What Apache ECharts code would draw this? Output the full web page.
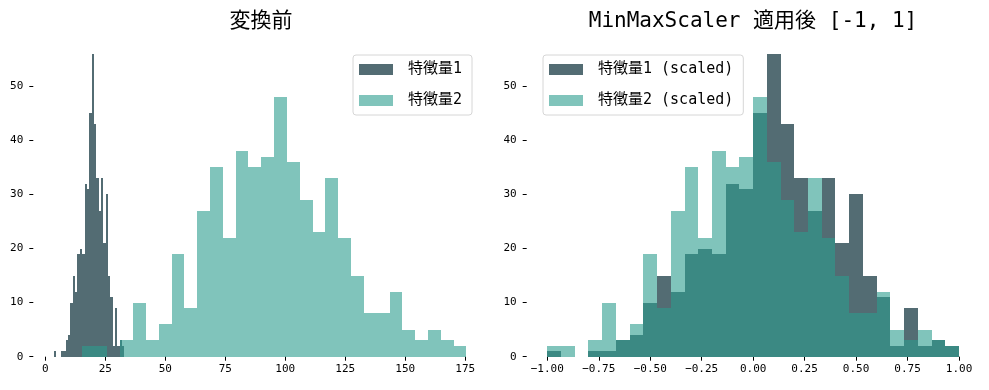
<!DOCTYPE html>
<html>
<head>
<meta charset="utf-8">
<script src="https://cdn.jsdelivr.net/npm/echarts@6/dist/echarts.min.js"></script>
<style>
  html, body { margin: 0; padding: 0; background: #fff; }
  #chart { width: 989px; height: 390px; }
</style>
</head>
<body>
<div id="chart"></div>
<script>
// ---- Data ----
const titles = ['変換前', 'MinMaxScaler 適用後 [-1, 1]'];
const seriesNamesRaw = ['特徴量1', '特徴量2'];
const seriesNamesScaled = ['特徴量1 (scaled)', '特徴量2 (scaled)'];

// histogram counts, 30 bins each
const feature1Counts = [1,0,0,1,1,3,4,10,15,12,19,20,19,32,31,45,56,43,33,27,33,21,30,15,11,2,9,2,3,2];
const feature2Counts = [2,2,0,3,10,3,6,19,9,27,35,22,38,35,37,48,36,29,23,33,22,15,8,8,12,5,3,5,3,2];

// data range of each feature (bin edges span min..max)
const feature1Range = [3.6, 33.0];
const feature2Range = [15.2, 175.5];
const scaledRange = [-1, 1];

// tick labels
const leftXTicks = [0, 25, 50, 75, 100, 125, 150, 175];
const rightXTicks = [-1, -0.75, -0.5, -0.25, 0, 0.25, 0.5, 0.75, 1];
const yTicks = [0, 10, 20, 30, 40, 50];

// ---- Build ----
const FONT = "'DejaVu Sans Mono', 'Noto Sans CJK JP', monospace";
const C1 = '#536c73';
const C2 = '#2b9d8e';
const C2_OP = 0.6;
const C2_LEGEND = '#80c4bb';

function histData(counts, range) {
  const n = counts.length;
  const w = (range[1] - range[0]) / n;
  return counts.map((c, i) => [range[0] + i * w, range[0] + (i + 1) * w, c]);
}

function makeRender(fill, opacity) {
  return function (params, api) {
    const x0 = api.value(0), x1 = api.value(1), c = api.value(2);
    if (!c) return null;
    const p0 = api.coord([x0, c]);
    const p1 = api.coord([x1, 0]);
    const xa = Math.round(p0[0]), xb = Math.round(p1[0]);
    const ya = Math.round(p0[1]), yb = Math.round(p1[1]);
    return {
      type: 'rect',
      shape: { x: xa, y: ya, width: Math.max(1, xb - xa), height: yb - ya },
      style: { fill: fill, opacity: opacity }
    };
  };
}

function fmtMinus(v, digits) {
  const s = Math.abs(v).toFixed(digits);
  return (v < 0 ? '\u2212' : '') + s;
}

const axisCommon = {
  axisLine: { show: false, onZero: false },
  splitLine: { show: false },
  axisTick: { show: true, length: 4, lineStyle: { color: '#000', width: 1 } },
};

const labelStyle = { fontSize: 11, fontFamily: FONT, color: '#000' };

const legendCommon = {
  orient: 'vertical',
  top: 55,
  icon: 'rect',
  itemWidth: 34,
  itemHeight: 11,
  itemGap: 16,
  padding: [7, 10, 7, 6],
  borderColor: '#d6d6d6',
  borderWidth: 1,
  borderRadius: 3,
  backgroundColor: '#fff',
  selectedMode: false,
  textStyle: { fontSize: 15, fontFamily: FONT, color: '#000', padding: [0, 0, 0, 10] }
};

const option = {
  backgroundColor: '#fff',
  animation: false,
  title: [
    { text: titles[0], left: 256, top: 6, textAlign: 'center',
      textStyle: { fontSize: 21, fontWeight: 'normal', fontFamily: FONT, color: '#000' } },
    { text: titles[1], left: 748, top: 6, textAlign: 'center',
      textStyle: { fontSize: 21, fontWeight: 'normal', fontFamily: FONT, color: '#000' } }
  ],
  legend: [
    Object.assign({}, legendCommon, {
      left: 353,
      data: [
        { name: seriesNamesRaw[0], itemStyle: { color: C1, opacity: 1 } },
        { name: seriesNamesRaw[1], itemStyle: { color: C2_LEGEND, opacity: 1 } }
      ]
    }),
    Object.assign({}, legendCommon, {
      left: 543,
      data: [
        { name: seriesNamesScaled[0], itemStyle: { color: C1, opacity: 1 } },
        { name: seriesNamesScaled[1], itemStyle: { color: C2_LEGEND, opacity: 1 } }
      ]
    })
  ],
  grid: [
    { left: 33.3, top: 38.6, width: 453.8, height: 318.1, containLabel: false, outerBoundsMode: 'none' },
    { left: 526.7, top: 38.6, width: 452.9, height: 318.1, containLabel: false, outerBoundsMode: 'none' }
  ],
  xAxis: [
    Object.assign({}, axisCommon, {
      type: 'value', gridIndex: 0, min: -5.0, max: 184.1,
      axisTick: Object.assign({}, axisCommon.axisTick, { customValues: leftXTicks }),
      axisLabel: Object.assign({}, labelStyle, { margin: 7, customValues: leftXTicks,
        formatter: v => fmtMinus(v, 0) })
    }),
    Object.assign({}, axisCommon, {
      type: 'value', gridIndex: 1, min: -1.1, max: 1.1,
      axisTick: Object.assign({}, axisCommon.axisTick, { customValues: rightXTicks }),
      axisLabel: Object.assign({}, labelStyle, { margin: 7, customValues: rightXTicks,
        formatter: v => fmtMinus(v, 2) })
    })
  ],
  yAxis: [
    Object.assign({}, axisCommon, {
      type: 'value', gridIndex: 0, min: 0, max: 58.8,
      axisTick: Object.assign({}, axisCommon.axisTick, { customValues: yTicks }),
      axisLabel: Object.assign({}, labelStyle, { margin: 10, customValues: yTicks })
    }),
    Object.assign({}, axisCommon, {
      type: 'value', gridIndex: 1, min: 0, max: 58.8,
      axisTick: Object.assign({}, axisCommon.axisTick, { customValues: yTicks }),
      axisLabel: Object.assign({}, labelStyle, { margin: 10, customValues: yTicks })
    })
  ],
  series: [
    { name: seriesNamesRaw[0], type: 'custom', xAxisIndex: 0, yAxisIndex: 0,
      itemStyle: { color: C1 }, encode: { x: [0, 1], y: 2 },
      renderItem: makeRender(C1, 1), data: histData(feature1Counts, feature1Range) },
    { name: seriesNamesRaw[1], type: 'custom', xAxisIndex: 0, yAxisIndex: 0,
      itemStyle: { color: C2_LEGEND }, encode: { x: [0, 1], y: 2 },
      renderItem: makeRender(C2, C2_OP), data: histData(feature2Counts, feature2Range) },
    { name: seriesNamesScaled[0], type: 'custom', xAxisIndex: 1, yAxisIndex: 1,
      itemStyle: { color: C1 }, encode: { x: [0, 1], y: 2 },
      renderItem: makeRender(C1, 1), data: histData(feature1Counts, scaledRange) },
    { name: seriesNamesScaled[1], type: 'custom', xAxisIndex: 1, yAxisIndex: 1,
      itemStyle: { color: C2_LEGEND }, encode: { x: [0, 1], y: 2 },
      renderItem: makeRender(C2, C2_OP), data: histData(feature2Counts, scaledRange) }
  ]
};

const chart = echarts.init(document.getElementById('chart'), null, { renderer: 'canvas' });
chart.setOption(option);
</script>
</body>
</html>
